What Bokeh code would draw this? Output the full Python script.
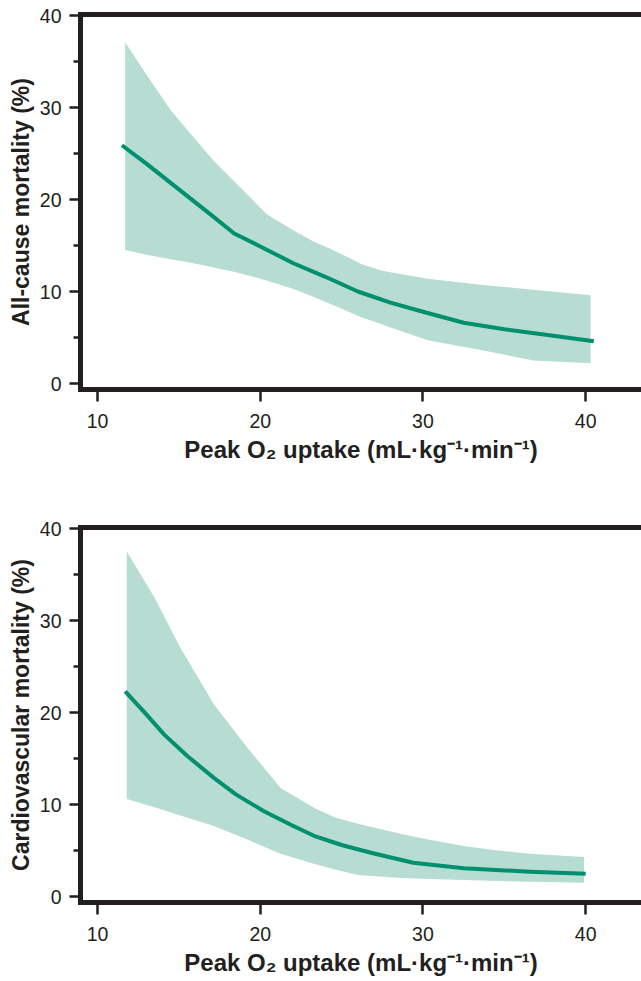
from bokeh.plotting import figure
from bokeh.models import LinearAxis, FixedTicker, Range1d, ColumnDataSource
from bokeh.layouts import column
from bokeh.embed import file_html
from bokeh.resources import INLINE

# ---- data ----
x_ticks = [10, 20, 30, 40]
y_ticks = [0, 10, 20, 30, 40]
y_minor = [5, 15, 25, 35]
x_title = "Peak O\u2082 uptake (mL\u00b7kg\u207b\u00b9\u00b7min\u207b\u00b9)"

all_title = "All-cause mortality (%)"
all_x = [11.5, 13, 15, 17, 18.4, 20, 22, 24, 26, 28, 30, 32.5, 35, 38, 40.5]
all_y = [25.9, 23.9, 21.1, 18.3, 16.3, 14.9, 13.1, 11.6, 10.0, 8.8, 7.8, 6.6, 5.9, 5.2, 4.6]
all_band_x = [11.7, 13, 14.5, 15.5, 17.15, 18.5, 20.4, 22, 23.3, 24.1, 25.3, 26.2, 27.4, 28, 30.3, 33.7, 36.8, 40.3]
all_hi = [37.1, 33.6, 29.7, 27.6, 24.2, 21.8, 18.4, 16.7, 15.4, 14.8, 13.8, 13.0, 12.3, 12.1, 11.4, 10.7, 10.2, 9.6]
all_lo = [14.5, 14.0, 13.5, 13.2, 12.6, 12.1, 11.2, 10.3, 9.4, 8.8, 7.9, 7.2, 6.5, 6.1, 4.7, 3.6, 2.5, 2.2]

cv_title = "Cardiovascular mortality (%)"
cv_x = [11.7, 13, 14.1, 15.5, 17.15, 18.5, 20.2, 22, 23.3, 25, 26.8, 29.4, 32.5, 36.6, 40.0]
cv_y = [22.3, 19.8, 17.6, 15.3, 12.9, 11.1, 9.3, 7.7, 6.6, 5.6, 4.76, 3.67, 3.07, 2.7, 2.48]
cv_band_x = [11.8, 13.5, 15.1, 17.15, 19.2, 21.25, 23.3, 24.6, 26.0, 28.4, 30, 32.5, 34.6, 36.6, 39.9]
cv_hi = [37.5, 32.5, 27.0, 20.9, 16.2, 11.8, 9.65, 8.6, 7.9, 6.9, 6.3, 5.5, 5.0, 4.65, 4.3]
cv_lo = [10.6, 9.7, 8.8, 7.66, 6.2, 4.65, 3.55, 2.95, 2.34, 2.05, 1.93, 1.8, 1.68, 1.6, 1.5]

# ---- style ----
INK = "#231f20"
BAND = "#b7dcd1"
LINE = "#009070"
FONT = "Liberation Sans"


def make_panel(title, lx, ly, bx, blo, bhi, height, bottom):
    p = figure(width=641, height=height,
               x_range=Range1d(8.955, 43.43), y_range=Range1d(-0.65, 40.11),
               output_backend="svg", toolbar_location=None,
               x_axis_location=None, y_axis_location=None,
               min_border_left=80, min_border_right=0,
               min_border_top=14, min_border_bottom=bottom)
    p.outline_line_color = None
    p.grid.visible = False
    p.background_fill_color = "white"
    p.border_fill_color = "white"

    src_b = ColumnDataSource(dict(x=bx, lo=blo, hi=bhi))
    p.varea(x="x", y1="lo", y2="hi", source=src_b, fill_color=BAND, fill_alpha=1.0)
    src_l = ColumnDataSource(dict(x=lx, y=ly))
    p.line(x="x", y="y", source=src_l, line_color=LINE, line_width=4,
           line_join="round")

    xa = LinearAxis(ticker=FixedTicker(ticks=x_ticks, minor_ticks=[]))
    xa.axis_label = x_title
    ya = LinearAxis(ticker=FixedTicker(ticks=y_ticks, minor_ticks=y_minor))
    ya.axis_label = title
    for ax in (xa, ya):
        ax.axis_line_color = INK
        ax.axis_line_width = 5
        ax.axis_line_cap = "square"
        ax.major_tick_line_color = INK
        ax.major_tick_line_width = 2.5
        ax.major_tick_in = 0
        ax.minor_tick_line_color = INK
        ax.minor_tick_line_width = 2.5
        ax.minor_tick_in = 0
        ax.major_label_text_font = FONT
        ax.major_label_text_font_size = "19.5px"
        ax.major_label_text_color = INK
        ax.axis_label_text_font = FONT
        ax.axis_label_text_font_style = "bold"
        ax.axis_label_text_color = INK
    xa.major_tick_out = 12
    xa.major_label_standoff = 12
    xa.axis_label_standoff = 5
    xa.axis_label_text_font_size = "24px"
    ya.major_tick_out = 11
    ya.minor_tick_out = 7
    ya.major_label_standoff = 8
    ya.axis_label_standoff = 3
    ya.axis_label_text_font_size = "23px"

    top = LinearAxis(ticker=FixedTicker(ticks=[], minor_ticks=[]))
    top.axis_line_color = INK
    top.axis_line_width = 5
    top.axis_line_cap = "square"
    top.major_tick_out = 0
    top.major_tick_in = 0
    top.minor_tick_out = 0
    top.minor_tick_in = 0
    top.major_label_standoff = 0
    top.major_label_text_font_size = "0px"

    p.add_layout(xa, "below")
    p.add_layout(ya, "left")
    p.add_layout(top, "above")
    return p


p1 = make_panel(all_title, all_x, all_y, all_band_x, all_lo, all_hi, 513, 124)
p2 = make_panel(cv_title, cv_x, cv_y, cv_band_x, cv_lo, cv_hi, 468, 79)

layout = column(p1, p2, spacing=0)
open("out.html", "w").write(file_html(layout, INLINE))
